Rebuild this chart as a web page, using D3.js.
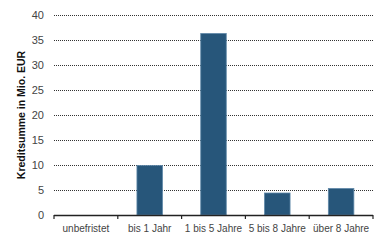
<!DOCTYPE html>
<html>
<head>
<meta charset="utf-8">
<script src="https://cdn.jsdelivr.net/npm/d3@7"></script>
<style>
  body { margin: 0; background: #fff; }
  text { font-family: "Liberation Sans", Arial, sans-serif; }
</style>
</head>
<body>
<div id="chart"></div>
<script>
const categories = ['unbefristet', 'bis 1 Jahr', '1 bis 5 Jahre', '5 bis 8 Jahre', 'über 8 Jahre']
const values = [0, 9.9, 36.3, 4.4, 5.3]
const yTicks = [0, 5, 10, 15, 20, 25, 30, 35, 40]
const yLabel = 'Kreditsumme in Mio. EUR'

const width = 388
const height = 243
const margin = { top: 15, right: 15, bottom: 28, left: 54 }
const chartWidth = width - margin.left - margin.right
const chartHeight = height - margin.top - margin.bottom

const svg = d3.select('#chart')
  .append('svg')
  .attr('width', width)
  .attr('height', height)

const g = svg.append('g')
  .attr('transform', `translate(${margin.left},${margin.top})`)

const x = d3.scaleBand()
  .domain(categories)
  .range([0, chartWidth])
  .paddingInner(0.6)
  .paddingOuter(0.3)

const y = d3.scaleLinear()
  .domain([0, 40])
  .range([chartHeight, 0])

// grid lines (dotted)
g.append('g')
  .selectAll('line')
  .data(yTicks.filter(d => d > 0))
  .join('line')
  .attr('x1', 0)
  .attr('x2', chartWidth)
  .attr('y1', d => Math.round(y(d)) + 0.5)
  .attr('y2', d => Math.round(y(d)) + 0.5)
  .attr('stroke', '#333')
  .attr('stroke-width', 1)
  .attr('stroke-dasharray', '1,1')

// y tick labels
g.append('g')
  .selectAll('text')
  .data(yTicks)
  .join('text')
  .attr('x', -10)
  .attr('y', d => y(d) + 4)
  .attr('text-anchor', 'end')
  .attr('font-size', 11)
  .attr('fill', '#444')
  .text(d => d)

// bars
g.append('g')
  .selectAll('rect')
  .data(categories.map((c, i) => ({ c, v: values[i] })))
  .join('rect')
  .attr('x', d => x(d.c))
  .attr('y', d => y(d.v))
  .attr('width', x.bandwidth())
  .attr('height', d => chartHeight - y(d.v))
  .attr('fill', '#27567a')
  .attr('stroke', '#5f88a8')
  .attr('stroke-width', 0.8)

// x axis line + ticks at category boundaries
const step = chartWidth / categories.length
g.append('line')
  .attr('x1', 0)
  .attr('x2', chartWidth)
  .attr('y1', chartHeight + 0.5)
  .attr('y2', chartHeight + 0.5)
  .attr('stroke', '#222')
  .attr('stroke-width', 1.5)

g.append('g')
  .selectAll('line')
  .data(d3.range(categories.length + 1))
  .join('line')
  .attr('x1', i => i * step)
  .attr('x2', i => i * step)
  .attr('y1', chartHeight)
  .attr('y2', chartHeight + 4)
  .attr('stroke', '#222')
  .attr('stroke-width', 1.2)

// x labels
g.append('g')
  .selectAll('text')
  .data(categories)
  .join('text')
  .attr('x', d => x(d) + x.bandwidth() / 2)
  .attr('y', chartHeight + 17)
  .attr('text-anchor', 'middle')
  .attr('font-size', 10)
  .attr('fill', '#444')
  .text(d => d)

// y axis title
svg.append('text')
  .attr('transform', `translate(25,${margin.top + chartHeight / 2}) rotate(-90)`)
  .attr('text-anchor', 'middle')
  .attr('font-size', 10.5)
  .attr('font-weight', 'bold')
  .attr('fill', '#111')
  .text(yLabel)
</script>
</body>
</html>
